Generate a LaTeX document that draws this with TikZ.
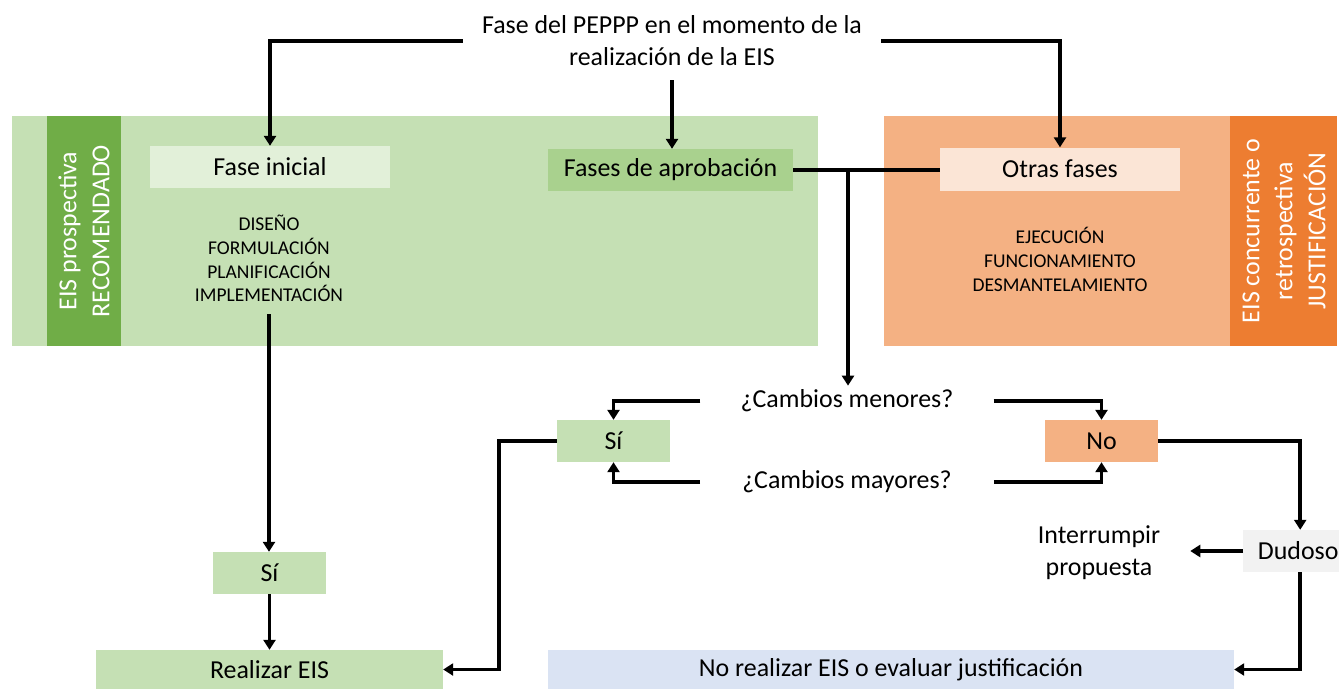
\documentclass[tikz,border=0pt]{standalone}
\usepackage{fontspec}
\setmainfont{Carlito}
\usetikzlibrary{arrows.meta}
\definecolor{lg}{HTML}{C5E0B4}
\definecolor{dg}{HTML}{70AD47}
\definecolor{pg}{HTML}{E2F0D9}
\definecolor{mg}{HTML}{A9D18E}
\definecolor{lo}{HTML}{F4B183}
\definecolor{do}{HTML}{ED7D31}
\definecolor{po}{HTML}{FBE5D6}
\definecolor{gy}{HTML}{F2F2F2}
\definecolor{bl}{HTML}{DAE3F3}
\newcommand\bigf{\fontsize{25.9}{32}\selectfont}
\newcommand\smallf{\fontsize{19.5}{23.7}\selectfont}
\newcommand\vertf{\fontsize{25.9}{33}\selectfont}
\begin{document}
\begin{tikzpicture}[x=1pt,y=-1pt,
  box/.style={fill=#1, inner sep=0pt, align=center, font=\bigf},
  txt/.style={font=\bigf, align=center},
  arr/.style={line width=3.5pt, -{Triangle[width=12pt,length=10pt]}},
  ln/.style={line width=3.5pt}]
\useasboundingbox (0,0) rectangle (1339,689);
% backgrounds
\fill[lg] (12,116) rectangle (818,346);
\fill[dg] (47,116) rectangle (121,346);
\fill[lo] (884,116) rectangle (1337,346);
\fill[do] (1230,116) rectangle (1337,346);
% nodes
\node[txt, inner xsep=19pt, inner ysep=14pt] (top) at (672,41) {Fase del PEPPP en el momento de la\\realización de la EIS};
\node[box=pg, minimum width=240pt, minimum height=42pt] (fi) at (270,167) {Fase inicial};
\node[box=mg, minimum width=245pt, minimum height=42pt] (fa) at (670.5,170) {Fases de aprobación};
\node[box=po, minimum width=240pt, minimum height=43pt] (of) at (1060,169) {Otras fases};
\node[font=\smallf, align=center, inner xsep=0pt, inner ysep=12pt] (dl) at (269,258.5) {DISEÑO\\FORMULACIÓN\\PLANIFICACIÓN\\IMPLEMENTACIÓN};
\node[font=\smallf, align=center] (ej) at (1060,259.5) {EJECUCIÓN\\FUNCIONAMIENTO\\DESMANTELAMIENTO};
\node[rotate=90, font=\vertf, text=white, align=center] (vg) at (84,231) {EIS prospectiva\\RECOMENDADO};
\node[rotate=90, font=\vertf, text=white, align=center] (vo) at (1284,231) {EIS concurrente o\\retrospectiva\\JUSTIFICACIÓN};
\node[txt, inner xsep=40pt, inner ysep=4pt] (cmen) at (847,401) {¿Cambios menores?};
\node[txt, inner xsep=42pt, inner ysep=4pt] (cmay) at (847,482) {¿Cambios mayores?};
\node[box=lg, minimum width=113pt, minimum height=42pt] (si2) at (613.5,441) {Sí};
\node[box=lo, minimum width=113pt, minimum height=42pt] (no) at (1101.5,441) {No};
\node[box=gy, minimum width=96pt, minimum height=42pt, anchor=west] (dud) at (1243,551) {\hspace{14pt}Dudoso};
\node[txt, inner xsep=30pt] (intr) at (1099,553) {Interrumpir\\propuesta};
\node[box=lg, minimum width=113pt, minimum height=42pt] (si1) at (269.5,573) {Sí};
\node[box=lg, minimum width=347pt, minimum height=39pt] (re) at (269.5,669.5) {Realizar EIS};
\node[box=bl, minimum width=686pt, minimum height=39pt] (nr) at (891,669.5) {No realizar EIS o evaluar justificación};
% connectors
\draw[arr] (top.west) -| (fi.north);
\draw[arr] (top.east) -| (of.north);
\draw[arr] (top.south) -- (top.south |- fa.north);
\draw[ln] (fa.east) -- (fa.east -| of.west);
\coordinate (br) at (848,170);
\draw[arr] (br) -- (br |- cmen.north);
\draw[arr] (cmen.west) -| (si2.north);
\draw[arr] (cmay.west) -| (si2.south);
\draw[arr] (cmen.east) -| (no.north);
\draw[arr] (cmay.east) -| (no.south);
\draw[arr] (no.east) -| ([xshift=9pt]dud.north);
\draw[arr] (dud.west) -- (dud.west -| intr.east);
\draw[arr] ([xshift=9pt]dud.south) |- (nr.east);
\draw[arr] (si2.west) -- ++(-58,0) |- (re.east);
\draw[arr] (dl.south) -- (dl.south |- si1.north);
\draw[arr] (si1.south) -- (si1.south |- re.north);
\end{tikzpicture}
\end{document}
